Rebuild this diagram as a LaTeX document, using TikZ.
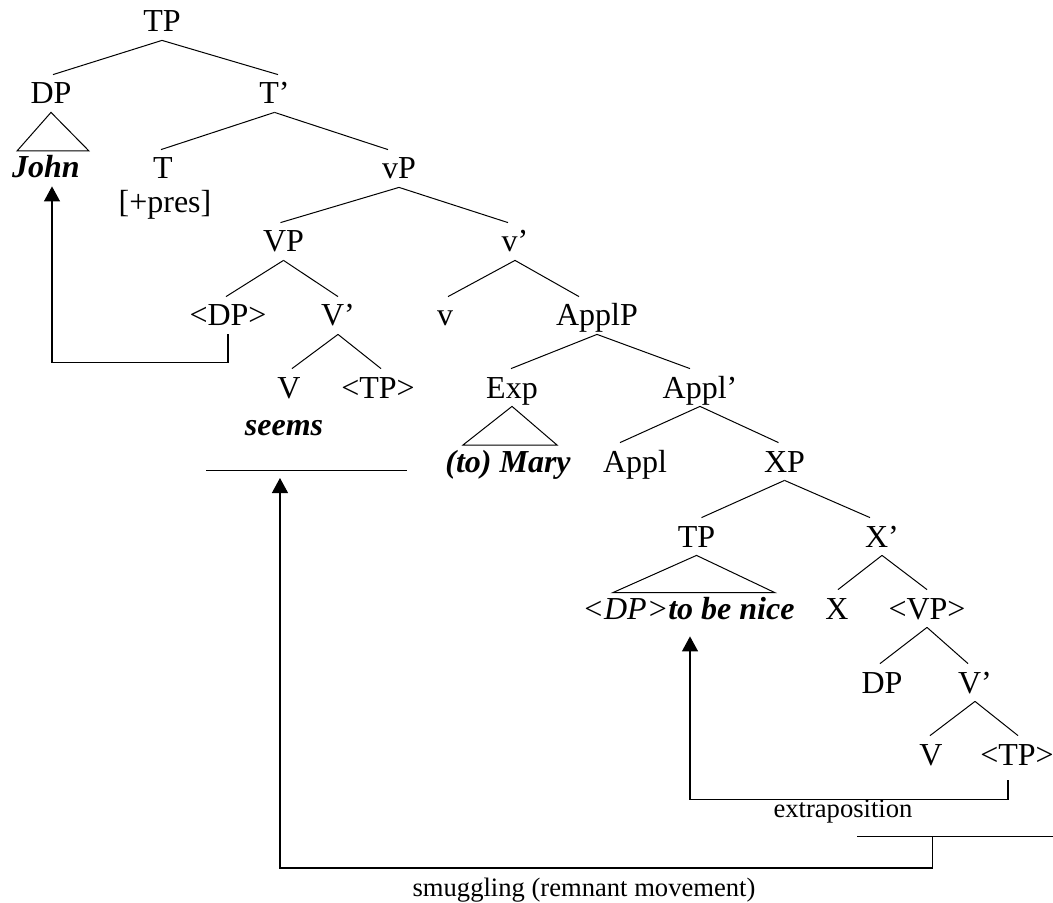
\documentclass[tikz,border=0pt]{standalone}
\usepackage{fontspec}
\setmainfont{Liberation Serif}
\usetikzlibrary{arrows.meta}

\begin{document}
\begin{tikzpicture}[
    x=0.5pt, y=-0.5pt,
    cat/.style={font=\fontsize{16pt}{19pt}\selectfont, anchor=base,
        inner xsep=0pt, inner ysep=4pt, text height=10.5pt, text depth=0pt},
    lex/.style={cat, font=\fontsize{16pt}{19pt}\selectfont\bfseries\itshape},
    branch/.style={line width=0.5pt},
    move/.style={line width=0.55pt, -{Triangle[length=7.5pt, width=8pt]}},
    note/.style={font=\fontsize{13.3pt}{16pt}\selectfont},
]
\useasboundingbox (0,0) rectangle (1053,903);

% --- Upper clause ---
\node[cat] (tp) at (162, 32) {TP};
\node[cat] (dp) at (51, 104) {DP};
\node[cat] (tbar) at (274.5, 104) {T'};
\node[lex] (john) at (46, 178) {John};
\node[cat] (t) at (163, 179) {T};
\node[cat] (pres) at (165, 213) {[+pres]};
\node[cat] (vp) at (399, 179) {vP};

% --- Raising verb ---
\node[cat] (VP) at (283.5, 252) {VP};
\node[cat] (vbar) at (515, 252) {v'};
\node[cat] (dpt) at (228, 326) {<DP>};
\node[cat] (Vbar) at (338, 326) {V'};
\node[cat] (v) at (445, 326) {v};
\node[cat] (applp) at (597, 326) {ApplP};
\node[cat] (V) at (289, 398) {V};
\node[cat] (tpt) at (378, 398) {<TP>};
\node[lex] (seems) at (284, 435) {seems};

% --- Experiencer ---
\node[cat] (exp) at (512, 398) {Exp};
\node[cat] (applbar) at (700, 398) {Appl'};
\node[lex] (mary) at (508, 472) {(to) Mary};
\node[cat] (appl) at (635, 472) {Appl};
\node[cat] (xp) at (784.5, 472) {XP};

% --- Embedded clause ---
\node[cat] (tp2) at (696.5, 547) {TP};
\node[cat] (xbar) at (882, 547) {X'};
\node[cat] (nice) at (688.5, 619) {\itshape <DP>\bfseries to be nice};
\node[cat] (x) at (837, 619) {X};
\node[cat] (vpt) at (927, 619) {<VP>};
\node[cat] (dp2) at (882, 693) {DP};
\node[cat] (vbar2) at (975, 693) {V'};
\node[cat] (v2) at (931, 765) {V};
\node[cat] (tpt2) at (1017, 765) {<TP>};

% Branches (parent/child/shift)
\foreach \p/\c/\s in {
    tp/dp/1pt, tp/tbar/1.75pt, tbar/t/-1pt, tbar/vp/-5.5pt,
    vp/VP/-1.5pt, vp/vbar/-3.5pt, VP/dpt/-1pt, VP/Vbar/0pt,
    Vbar/V/1.5pt, Vbar/tpt/1.5pt, vbar/v/1.5pt, vbar/applp/-9pt,
    applp/exp/-0.5pt, applp/applbar/-5pt, applbar/appl/-7.5pt, applbar/xp/-3pt,
    xp/tp2/2.5pt, xp/xbar/-6pt, xbar/x/0.5pt, xbar/vpt/0pt,
    vpt/dp2/-1pt, vpt/vbar2/-3.5pt, vbar2/v2/-0.5pt, vbar2/tpt2/0.5pt
} {
    \draw[branch] (\p.south) -- ([xshift=\s]\c.north);
}

% Triangles
\draw[branch] (dp.south) -- (17, 151) -- (89, 151) -- cycle;
\draw[branch] (exp.south) -- (463, 445) -- (557, 445) -- cycle;
\draw[branch] (tp2.south) -- (612.7, 592.7) -- (775, 592.7) -- cycle;

% --- Movement ---
\draw[move] (dpt.south) -- ++(0, 28) -| ([xshift=3pt]john.south);

\draw[move] ([xshift=-4.5pt, yshift=-3.5pt]tpt2.south) -- ++(0, 19)
    -| ([xshift=0.75pt, yshift=-4.5pt]nice.south);
\node[note] (extra) at (843, 812) {extraposition};

% remnant bars
\draw[branch] (206, 470) -- coordinate[pos=0.368] (sm1) (407, 470);
\draw[branch] (857, 836) -- coordinate[pos=0.383] (sm0) (1053, 836);
\draw[move] (sm0) -- ++(0, 32) -| ([yshift=-4pt]sm1);
\node[note] (smug) at (584, 890) {smuggling (remnant movement)};

\end{tikzpicture}
\end{document}
